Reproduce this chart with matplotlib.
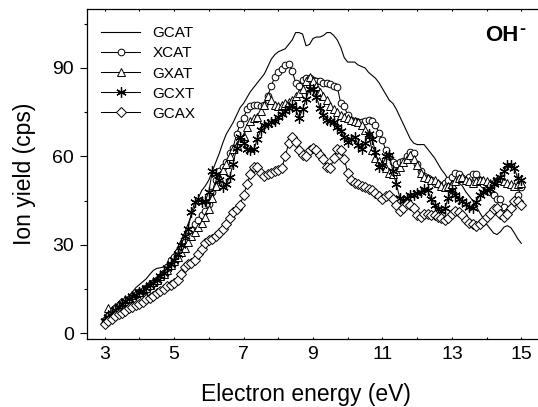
import numpy as np
import matplotlib
matplotlib.use("Agg")
import matplotlib.pyplot as plt
from matplotlib.ticker import MultipleLocator

plt.rcParams['font.family'] = ['Liberation Sans', 'DejaVu Sans']

# Electron energy grid (eV), 0.1 eV steps from 3 to 15
energy = np.round(np.arange(3.0, 15.0001, 0.1), 1)

gcat = [4, 5.5, 7, 8, 9, 10, 11, 12.5, 14, 15.5,
        16.5, 17.5, 18.5, 20, 21.3, 22, 22.2, 22.5, 23.5, 25,
        27, 29, 31.5, 34, 37, 40, 43, 46, 48.5, 50,
        52, 55, 58, 61, 64.5, 67.5, 69.5, 71.5, 74, 76.5,
        78, 80, 82, 83.5, 85, 86.5, 88, 90.5, 93, 94.5,
        95.5, 96, 96.5, 98, 99.5, 102, 102, 101.5, 97.5, 98,
        100, 100.5, 100.5, 101, 102, 102, 101, 99.5, 97, 93.5,
        92, 92, 92, 91, 90.5, 90, 88.5, 87.5, 86.5, 85,
        83, 81, 79, 78, 76, 73.5, 71, 68.5, 66, 64.5,
        64, 64, 64, 62.5, 61, 59.5, 57.5, 55.5, 54, 52,
        51.5, 51.5, 51, 50, 48, 46.5, 45, 43, 41, 39,
        37, 35.5, 34, 33.5, 34.5, 36, 36.5, 35.8, 34, 32,
        30.5]

xcat = [4.5, 6, 7.5, 8.5, 9.5, 10.5, 10.5, 11.5, 12.5, 13,
        14, 14.5, 15.5, 16.5, 17, 18, 19, 20.5, 22.5, 25,
        26, 27.5, 29.5, 31, 33, 35, 37, 38.5, 40, 41.5,
        44, 48, 52, 55, 56.5, 58, 61, 63, 67.5, 71,
        73, 76, 77, 77.5, 77.5, 77, 77.5, 80.5, 84, 87,
        88.5, 89.5, 91, 91.5, 89, 85, 84, 86, 86.5, 86.5,
        86, 85.5, 85.5, 85, 85, 84.5, 84, 83.5, 78, 77,
        74, 72.5, 72, 71.5, 71.5, 72, 72.5, 72, 70.5, 68,
        65.5, 62, 60, 58, 57.5, 58, 58.5, 60, 61.5, 61,
        57.5, 55, 53.5, 52.5, 52, 51, 50.5, 50, 51, 52,
        53, 54.5, 54, 52.5, 52, 53, 54, 54, 52, 50.5,
        49, 48, 47, 45.5, 45.5, 43, 41, 42.5, 44.5, 47,
        49.5]

gxat = [5, 8.5, 8, 9, 10, 10.5, 11.5, 12, 13, 13.5,
        14, 15, 15.5, 16.5, 17.5, 18, 19.5, 20, 21.5, 23,
        24.5, 26, 27.5, 29, 31, 33, 34.5, 36, 37.5, 39.5,
        42, 46, 50, 53, 55.5, 57.5, 60, 62.5, 64, 65.5,
        67, 70, 72, 73, 73.5, 75.5, 77.5, 80.5, 79, 77.5,
        77, 77.5, 78, 78.5, 79, 80.5, 81.5, 83, 85.5, 87,
        85.5, 84, 82, 80.5, 79, 77, 76, 75, 74, 73.5,
        73, 72.5, 72, 71.5, 70.5, 69, 67.5, 62, 59.5, 58.5,
        57.5, 56, 54.5, 54, 55, 56.5, 58, 59, 60.5, 59,
        57, 54.5, 53, 52.5, 52, 52, 51, 50, 49.5, 50,
        50.5, 51.5, 52.5, 53, 52, 51.5, 51, 51.5, 52, 52,
        51.5, 51, 51.5, 52, 52, 51.5, 51, 50.5, 50, 50.5,
        51]

gcxt = [4, 5.5, 7, 8, 9, 10, 11, 11.5, 12.5, 13,
        14, 14.5, 15.5, 16.5, 17, 18, 19.5, 20.5, 22, 23.5,
        25, 27, 30, 33, 35.5, 41, 44.5, 45.5, 44.5, 45,
        48, 55, 54, 52, 49.5, 50.5, 53, 57.5, 63, 66.5,
        64.5, 62.5, 62, 62.5, 66, 69, 70.5, 71, 71.5, 72,
        73.5, 74.5, 75.5, 76.5, 77.5, 76, 73, 76, 79.5, 83,
        83, 80, 76.5, 74, 72.5, 72, 71.5, 70, 68.5, 66.5,
        65, 66, 66.5, 64, 62.5, 64.5, 67.5, 66, 61.5, 56.5,
        57, 60, 60.5, 55, 50.5, 46, 45, 46, 47, 47,
        47.5, 48, 49, 48.5, 45.5, 43.5, 42, 41.5, 42.5, 46,
        48.5, 47, 45.5, 45, 44, 43, 42.5, 44.5, 47, 48,
        48.5, 49, 50.5, 52, 53, 55, 57, 57, 56, 52.5,
        52]

gcax = [3, 4, 5, 6, 6.5, 7, 7.5, 8.5, 9, 9.5,
        10, 10.5, 11.5, 12, 12.5, 13.5, 14.5, 15, 16, 16.5,
        17, 18, 20, 22.5, 23.5, 24, 25, 27, 28.5, 30.5,
        31.5, 32, 33, 34, 35.5, 37, 39, 41, 42, 43.5,
        47, 50.5, 54, 56.5, 56.5, 54.5, 53.5, 54, 54.5, 55,
        55.5, 56, 60, 64.5, 66.5, 65, 62, 60.5, 60, 62,
        63, 62, 60.5, 59, 56.5, 56, 59.5, 62.5, 62, 59,
        54.5, 52, 51, 50.5, 50, 49.5, 49, 48.5, 47.5, 46.5,
        45.5, 46.5, 47, 45.5, 43.5, 41.5, 42.5, 44, 43.5, 42.5,
        40, 39.5, 40.5, 40.5, 40, 40, 39.5, 39, 38.5, 39,
        40.5, 41.5, 41, 40, 38.5, 37.5, 37, 36.5, 37, 38,
        39.5, 40.5, 42, 42.5, 40.5, 39.5, 40.5, 42.5, 45, 45,
        43.5]

labels = ["GCAT", "XCAT", "GXAT", "GCXT", "GCAX"]

fig = plt.figure(figsize=(5.38, 4.07), dpi=100)
W, H = 538, 407
ax = fig.add_axes([87.3 / W, 68 / H, (W - 87.3) / W, (339 - 9.3) / H])

common = dict(color="black", lw=0.75, mfc="white", mec="black", mew=0.7)
ax.plot(energy, gcat, color="black", lw=0.8, label=labels[0])
ax.plot(energy, xcat, marker="o", ms=4.8, label=labels[1], **common)
ax.plot(energy, gxat, marker="^", ms=6, label=labels[2], **common)
ax.plot(energy, gcxt, marker=(6, 2, 0), ms=7.5, label=labels[3],
        **{**common, "mew": 0.9})
ax.plot(energy, gcax, marker="D", ms=5.0, label=labels[4], **common)

ax.set_xlim(2.5, 15.48)
ax.set_ylim(-1.95, 109.9)
ax.set_xticks(np.arange(3, 16, 2))
ax.xaxis.set_minor_locator(MultipleLocator(1))
ax.yaxis.set_major_locator(MultipleLocator(30))
ax.yaxis.set_minor_locator(MultipleLocator(15))

for sp in ax.spines.values():
    sp.set_linewidth(0.9)
ax.spines["right"].set_visible(False)

ax.tick_params(axis="both", which="major", direction="out", length=4.8,
               width=0.8, labelsize=14, pad=5)
ax.tick_params(axis="both", which="minor", direction="out", length=2.4,
               width=0.8)
ax.tick_params(axis="x", which="both", top=True)
ax.tick_params(axis="x", which="major", top=True, direction="in", length=1.5)
ax.tick_params(axis="x", which="minor", top=True, direction="in", length=1.5)
ax.tick_params(axis="x", which="both", bottom=True)

ax.set_xlabel("Electron energy (eV)", fontsize=16.5)
ax.set_ylabel("Ion yield (cps)", fontsize=16.5)
ax.xaxis.set_label_coords((305.5 - 87.3) / (W - 87.3), -(383 - 339) / (339 - 9.3))
ax.yaxis.set_label_coords(-(87.3 - 36) / (W - 87.3), 0.5)

leg = ax.legend(loc="upper left", bbox_to_anchor=(0.0, 0.99), frameon=False,
                fontsize=11, handlelength=2.55, handletextpad=0.8,
                labelspacing=0.4, numpoints=1, borderaxespad=0.5)

fig.text(519 / W, 1 - 41 / H, "OH", fontsize=16, fontweight="bold",
         ha="right", va="baseline")
fig.text(519.5 / W, 1 - 29 / H, "-", fontsize=13, fontweight="bold",
         ha="left", va="center")

fig.savefig("out.png", dpi=100)
